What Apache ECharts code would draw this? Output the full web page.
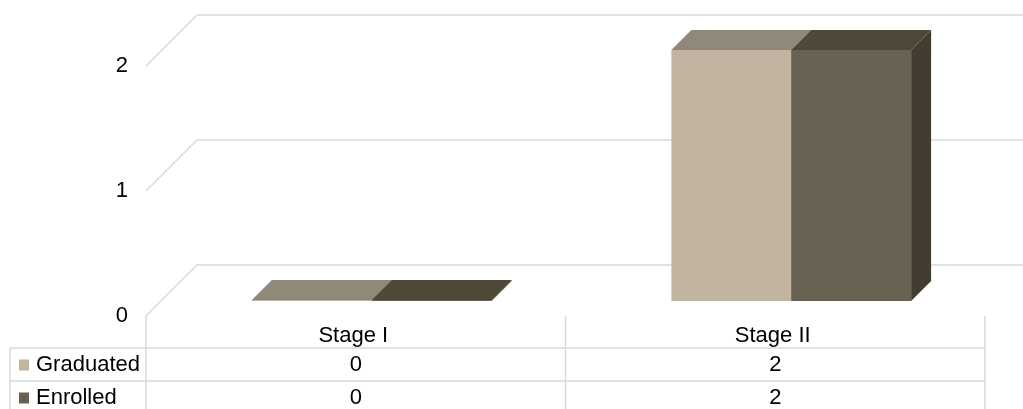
<!DOCTYPE html>
<html>
<head>
  <meta charset="UTF-8">
  <title>Stage chart</title>
  <style>
    html, body { margin: 0; padding: 0; background: #fff; }
    #chart { width: 1023px; height: 409px; }
  </style>
  <script src="https://cdn.jsdelivr.net/npm/echarts@6/dist/echarts.min.js"></script>
</head>
<body>
  <div id="chart"></div>
  <script>
    var categories = ['Stage I', 'Stage II'];
    var graduated = [0, 2];
    var enrolled = [0, 2];
    var yTicks = [0, 1, 2];

    var FONT = '"Liberation Sans", Arial, sans-serif';
    var FONT_SIZE = 22;
    var GRID_COLOR = '#d9d9d9';
    var TEXT_COLOR = '#000';

    // fake 3d: floor depth of the walls, bar inset and bar depth in px
    var WALL_DEPTH = 51;
    var BAR_INSET = 16;
    var BAR_DEPTH = 20;

    var chart = echarts.init(document.getElementById('chart'));

    function wallLine(params, api) {
      var y = api.coord([0, api.value(0)])[1];
      var x = params.coordSys.x;
      return {
        type: 'polyline',
        shape: { points: [[x, y], [x + WALL_DEPTH, y - WALL_DEPTH], [1023, y - WALL_DEPTH]] },
        style: { fill: null, stroke: GRID_COLOR, lineWidth: 1.5 }
      };
    }

    // side: -1 is the bar left of the band centre, 0 the one right of it
    function bar3d(side, front, top, right) {
      return function(params, api) {
        var band = api.size([1, 0])[0];
        var w = band * 2 / 7;
        var base = api.coord([api.value(0), 0]);
        var head = api.coord([api.value(0), api.value(1)]);
        var x0 = base[0] + BAR_INSET + side * w;
        var x1 = x0 + w;
        var y0 = base[1] - BAR_INSET + 1;
        var y1 = head[1] - BAR_INSET;
        var d = BAR_DEPTH;
        return {
          type: 'group',
          children: [
            { type: 'polygon', shape: { points: [[x0, y1], [x1, y1], [x1 + d, y1 - d], [x0 + d, y1 - d]] }, style: { fill: top } },
            { type: 'polygon', shape: { points: [[x1, y0], [x1 + d, y0 - d], [x1 + d, y1 - d], [x1, y1]] }, style: { fill: right } },
            { type: 'rect', shape: { x: x0, y: y1, width: w, height: y0 - y1 }, style: { fill: front } }
          ]
        };
      };
    }

    function tableRow(rowY) {
      return function(params, api) {
        return {
          type: 'text',
          x: api.coord([api.value(0), 0])[0],
          y: rowY,
          style: {
            text: String(api.value(1)),
            font: FONT_SIZE + 'px ' + FONT,
            fill: TEXT_COLOR,
            align: 'center',
            verticalAlign: 'middle'
          }
        };
      };
    }

    function pairs(values) {
      return values.map(function(v, i) { return [i, v]; });
    }

    function tableLine(x1, y1, x2, y2) {
      return {
        type: 'line',
        shape: { x1: x1, y1: y1, x2: x2, y2: y2 },
        style: { stroke: GRID_COLOR, lineWidth: 1.5 }
      };
    }

    chart.setOption({
      animation: false,
      grid: { left: 146, right: 38, top: 66, bottom: 93 },
      legend: {
        data: ['Graduated', 'Enrolled'],
        orient: 'vertical',
        left: 19,
        top: 354,
        padding: 0,
        icon: 'rect',
        itemWidth: 10,
        itemHeight: 11,
        itemGap: 11,
        selectedMode: false,
        textStyle: { fontFamily: FONT, fontSize: FONT_SIZE, color: TEXT_COLOR, padding: [0, 0, 0, 2] }
      },
      xAxis: {
        type: 'category',
        data: categories,
        axisLine: { show: false },
        axisTick: { show: false },
        axisLabel: { fontFamily: FONT, fontSize: FONT_SIZE, color: TEXT_COLOR, margin: 9, padding: [0, 5, 0, 0] }
      },
      yAxis: {
        type: 'value',
        min: 0,
        max: 2,
        interval: 1,
        axisLine: { show: false },
        axisTick: { show: false },
        splitLine: { show: false },
        axisLabel: { fontFamily: FONT, fontSize: FONT_SIZE, color: TEXT_COLOR, margin: 18, padding: [2, 0, 0, 0] }
      },
      graphic: {
        elements: [
          tableLine(10, 348, 985, 348),
          tableLine(10, 381, 985, 381),
          tableLine(10, 348, 10, 409),
          tableLine(146, 316, 146, 409),
          tableLine(565.5, 316, 565.5, 409),
          tableLine(985, 316, 985, 409)
        ]
      },
      series: [
        {
          type: 'custom',
          name: 'walls',
          clip: false,
          z: 1,
          encode: { y: 0 },
          data: yTicks.map(function(v) { return [v]; }),
          renderItem: wallLine
        },
        {
          type: 'custom',
          name: 'Graduated',
          clip: false,
          z: 2,
          itemStyle: { color: '#c1b5a1' },
          encode: { x: 0, y: 1 },
          data: pairs(graduated),
          renderItem: bar3d(-1, '#c1b5a1', '#908878', '#908878')
        },
        {
          type: 'custom',
          name: 'Enrolled',
          clip: false,
          z: 3,
          itemStyle: { color: '#696151' },
          encode: { x: 0, y: 1 },
          data: pairs(enrolled),
          renderItem: bar3d(0, '#696151', '#4f4839', '#433c30')
        },
        {
          type: 'custom',
          name: 'tableGraduated',
          clip: false,
          encode: { x: 0, y: 1 },
          data: pairs(graduated),
          renderItem: tableRow(365)
        },
        {
          type: 'custom',
          name: 'tableEnrolled',
          clip: false,
          encode: { x: 0, y: 1 },
          data: pairs(enrolled),
          renderItem: tableRow(398)
        }
      ]
    });
  </script>
</body>
</html>
